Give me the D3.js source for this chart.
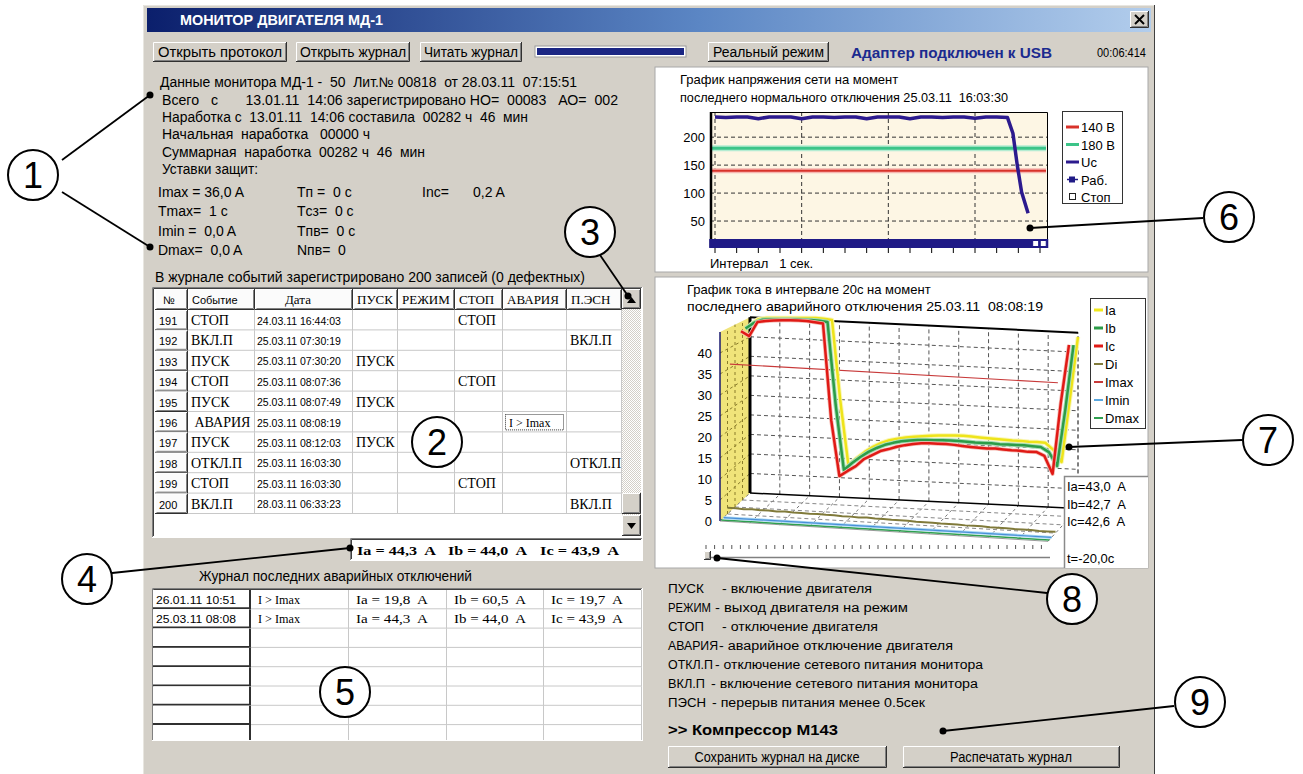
<!DOCTYPE html>
<html>
<head>
<meta charset="utf-8">
<script src="https://cdn.jsdelivr.net/npm/d3@7"></script>
<style>
  body { margin: 0; background: #fff; overflow: hidden; }
  svg { display: block; }
  text { white-space: pre; }
</style>
</head>
<body>
<script>
// ---- données ----
const infoLines = [
  "Данные монитора МД-1 -  50  Лит.№ 00818  от 28.03.11  07:15:51",
  "Всего   с       13.01.11  14:06 зарегистрировано НО=  00083   АО=  002",
  "Наработка с  13.01.11  14:06 составила  00282 ч  46  мин",
  "Начальная  наработка   00000 ч",
  "Суммарная  наработка  00282 ч  46  мин",
  "Уставки защит:"
];
const setCol1 = ["Imax = 36,0 A", "Tmax=  1 c", "Imin =  0,0 A", "Dmax=  0,0 A"];
const setCol2 = ["Tп =  0 c", "Tсз=  0 c", "Tпв=  0 c", "Nпв=  0"];
const setCol3 = ["Inc=", "0,2 A"];

const topButtons = ["Открыть протокол", "Открыть журнал", "Читать журнал", "Реальный режим"];

const eventCols = ["№", "Событие", "Дата", "ПУСК", "РЕЖИМ", "СТОП", "АВАРИЯ", "П.ЭСН"];
const eventNums = [191, 192, 193, 194, 195, 196, 197, 198, 199, 200];
const eventNames = ["СТОП", "ВКЛ.П", "ПУСК", "СТОП", "ПУСК", " АВАРИЯ", "ПУСК", "ОТКЛ.П", "СТОП", "ВКЛ.П"];
const eventDates = ["24.03.11 16:44:03", "25.03.11 07:30:19", "25.03.11 07:30:20", "25.03.11 08:07:36",
  "25.03.11 08:07:49", "25.03.11 08:08:19", "25.03.11 08:12:03", "25.03.11 16:03:30",
  "25.03.11 16:03:30", "28.03.11 06:33:23"];
const eventMarkCol = ["СТОП", "П.ЭСН", "ПУСК", "СТОП", "ПУСК", "АВАРИЯ", "ПУСК", "П.ЭСН", "СТОП", "П.ЭСН"];
const eventMarks = ["СТОП", "ВКЛ.П", "ПУСК", "СТОП", "ПУСК", "I > Imax", "ПУСК", "ОТКЛ.П", "СТОП", "ВКЛ.П"];
const lastCurrents = ["Ia = 44,3  A", "Ib = 44,0  A", "Ic = 43,9  A"];

const crashDates = ["26.01.11 10:51", "25.03.11 08:08", "", "", "", "", "", ""];
const crashCause = ["I > Imax", "I > Imax", "", "", "", "", "", ""];
const crashIa = ["Ia = 19,8  A", "Ia = 44,3  A", "", "", "", "", "", ""];
const crashIb = ["Ib = 60,5  A", "Ib = 44,0  A", "", "", "", "", "", ""];
const crashIc = ["Ic = 19,7  A", "Ic = 43,9  A", "", "", "", "", "", ""];

const legendCodes = ["ПУСК", "РЕЖИМ", "СТОП", "АВАРИЯ", "ОТКЛ.П", "ВКЛ.П", "ПЭСН"];
const legendDescs = ["- включение двигателя", "- выход двигателя на режим", "- отключение двигателя",
  "- аварийное отключение двигателя", "- отключение сетевого питания монитора",
  "- включение сетевого питания монитора", "- перерыв питания менее 0.5сек"];

// график напряжения
const voltTicks = [50, 100, 150, 200];
const voltLevels = [140, 180];
const voltT = [0, 0.5, 1, 1.5, 2, 2.5, 3, 3.5, 4, 4.5, 5, 5.5, 6, 6.5, 7, 7.5, 8, 8.5, 9, 9.5,
  10, 10.5, 11, 11.5, 12, 12.5, 13, 13.5, 13.75, 13.95, 14.15, 14.45];
const voltUc = [236, 235, 236, 236, 233, 236, 236, 236, 233, 236, 236, 235, 236, 236, 233, 236,
  236, 236, 233, 236, 236, 235, 236, 236, 234, 236, 236, 235, 207, 150, 102, 64];
const runSpan = [-0.25, 15.4];
const stopT = [14.8, 15.15];

// график тока
const curTicks = [0, 5, 10, 15, 20, 25, 30, 35, 40];
const curT = [-20, -19.5, -19, -18.5, -18, -17.5, -17, -16.5, -16, -15.5, -15, -14.5, -14, -13.5,
  -13, -12.5, -12, -11.5, -11, -10.5, -10, -9.5, -9, -8.5, -8, -7.5, -7, -6.5, -6, -5.5, -5,
  -4.5, -4, -3.5, -3, -2.5, -2, -1.5, -1, -0.5, 0];
const curIa = [43.0, 44.6, 45.0, 45.1, 45.2, 45.3, 45.4, 45.5, 45.6, 45.5, 45.3, 24.9, 8.3, 10.2,
  11.9, 13.3, 14.4, 15.2, 15.7, 16.1, 16.4, 16.6, 16.8, 17.0, 17.1, 17.2, 17.2, 17.1, 17.0, 16.9,
  16.8, 16.7, 16.6, 16.6, 16.5, 16.5, 16.4, 14.7, 11.7, 27.7, 43.9];
const curIb = [42.7, 44.2, 45.1, 45.3, 45.4, 45.5, 45.6, 45.6, 45.7, 45.6, 45.4, 24.5, 8.1, 10.0,
  11.6, 13.0, 14.1, 15.0, 15.6, 16.1, 16.4, 16.6, 16.7, 16.8, 16.9, 16.9, 16.9, 16.8, 16.7, 16.7,
  16.7, 16.6, 16.6, 16.6, 16.6, 16.5, 16.4, 15.2, 11.8, 26.1, 42.6];
const curIc = [42.6, 41.5, 45.1, 45.5, 45.7, 45.9, 46.0, 46.0, 46.0, 45.8, 45.6, 21.5, 7.6, 9.0,
  10.3, 12.2, 13.3, 14.4, 15.0, 15.7, 16.2, 16.6, 16.9, 17.0, 17.0, 17.0, 16.9, 16.7, 16.6, 16.5,
  16.4, 16.5, 16.4, 16.3, 16.3, 16.1, 16.2, 15.3, 10.9, 28.8, 43.4];
const curDi = [1.5, 1.5, 1.4, 1.5, 1.4, 1.4, 1.3, 1.4, 1.3, 1.3, 1.2, 1.3, 1.2, 1.2, 1.1, 1.1, 1.0,
  1.1, 1.0, 1.0, 0.9, 0.9, 0.9, 0.8, 0.8, 0.8, 0.7, 0.7, 0.7, 0.6, 0.6, 0.6, 0.5, 0.5, 0.5, 0.4,
  0.4, 0.4, 0.3, 0.3, 0.3];
const limT = [-20, 0];
const curImax = [36.0, 36.0];
const curImin = [0.0, 0.0];
const curDmax = [0.0, 0.0];
const cursorVals = ["Ia=43,0  A", "Ib=42,7  A", "Ic=42,6  A", "", "t=-20,0c"];

// ---- canevas ----
const SANS = '"Liberation Sans", Arial, sans-serif';
const SERIF = '"Liberation Serif", "Times New Roman", serif';
const GRAY = '#d4d0c8';

const svg = d3.select('body').append('svg')
  .attr('width', 1303).attr('height', 774)
  .attr('viewBox', '0 0 1303 774');
const defs = svg.append('defs');
const cap = defs.append('linearGradient').attr('id', 'cap');
cap.append('stop').attr('offset', 0).attr('stop-color', '#0b1f6c');
cap.append('stop').attr('offset', 0.55).attr('stop-color', '#5b86c4');
cap.append('stop').attr('offset', 1).attr('stop-color', '#b2cdec');
const chk = defs.append('pattern').attr('id', 'chk').attr('width', 2).attr('height', 2)
  .attr('patternUnits', 'userSpaceOnUse');
chk.append('rect').attr('width', 2).attr('height', 2).attr('fill', '#fff');
chk.append('rect').attr('width', 1).attr('height', 1).attr('fill', GRAY);
chk.append('rect').attr('x', 1).attr('y', 1).attr('width', 1).attr('height', 1).attr('fill', GRAY);

function txt(g, s, x, y, o = {}) {
  const t = g.append('text').attr('x', x).attr('y', y).text(s)
    .attr('font-size', o.size || 13)
    .attr('font-family', o.family || SANS)
    .attr('fill', o.fill || '#000');
  if (o.weight) t.attr('font-weight', o.weight);
  if (o.anchor) t.attr('text-anchor', o.anchor);
  if (o.w) t.attr('textLength', o.w).attr('lengthAdjust', 'spacingAndGlyphs');
  return t;
}
function pline(g, pts, c, w = 1) {
  return g.append('polyline').attr('points', pts.map(p => p.join(',')).join(' '))
    .attr('fill', 'none').attr('stroke', c).attr('stroke-width', w);
}
// bouton en relief
function raised(g, x, y, w, h, fill = GRAY) {
  g.append('rect').attr('x', x).attr('y', y).attr('width', w).attr('height', h).attr('fill', fill);
  pline(g, [[x + 0.5, y + h - 1], [x + 0.5, y + 0.5], [x + w - 1, y + 0.5]], '#fff');
  pline(g, [[x, y + h - 0.5], [x + w - 0.5, y + h - 0.5], [x + w - 0.5, y]], '#303030');
  pline(g, [[x + 1.5, y + h - 1.5], [x + w - 1.5, y + h - 1.5], [x + w - 1.5, y + 1]], '#808080');
}
// cadre en creux
function sunken(g, x, y, w, h, fill = '#fff') {
  g.append('rect').attr('x', x).attr('y', y).attr('width', w).attr('height', h).attr('fill', fill);
  pline(g, [[x + 0.5, y + h - 1], [x + 0.5, y + 0.5], [x + w - 1, y + 0.5]], '#808080');
  pline(g, [[x + 1.5, y + h - 2], [x + 1.5, y + 1.5], [x + w - 2, y + 1.5]], '#404040');
  pline(g, [[x, y + h - 0.5], [x + w - 0.5, y + h - 0.5], [x + w - 0.5, y]], '#fff');
}

// ---- fenêtre ----
const win = svg.append('g');
win.append('rect').attr('x', 143).attr('y', 5).attr('width', 1012).attr('height', 769).attr('fill', GRAY);
pline(win, [[143.5, 774], [143.5, 5.5], [1155, 5.5]], '#e8e6e0');
pline(win, [[1154.5, 5], [1154.5, 774]], '#404040');
win.append('rect').attr('x', 147).attr('y', 8).attr('width', 1004).attr('height', 24).attr('fill', 'url(#cap)');
txt(win, 'МОНИТОР ДВИГАТЕЛЯ МД-1', 180, 25, { size: 14, weight: 'bold', fill: '#fff', w: 203 });
raised(win, 1130, 11, 19, 17);
pline(win, [[1135, 15], [1144, 24]], '#000', 2);
pline(win, [[1144, 15], [1135, 24]], '#000', 2);

// boutons du haut
const btnX = [153, 296, 420, 708], btnW = [134, 114, 102, 121], btnTW = [124, 106, 94, 111];
topButtons.forEach((b, i) => {
  raised(win, btnX[i], 42, btnW[i], 20);
  txt(win, b, btnX[i] + btnW[i] / 2, 57, { anchor: 'middle', size: 14, w: btnTW[i] });
});
win.append('rect').attr('x', 535).attr('y', 46).attr('width', 151).attr('height', 11)
  .attr('fill', '#fff').attr('stroke', '#9a9a9a');
win.append('rect').attr('x', 537).attr('y', 48).attr('width', 147).attr('height', 7).attr('fill', '#1b2683');
txt(win, 'Адаптер подключен к USB', 851, 58, { size: 14.5, weight: 'bold', fill: '#1b2a8f', w: 201 });
txt(win, '00:06:414', 1097, 57, { size: 13, w: 49 });

// ---- informations ----
const infoX = [160, 162, 162, 162, 162, 162];
const infoY = [87, 105, 122, 139, 157, 174];
const infoW = [417, 456, 366, 208, 263, 96];
infoLines.forEach((s, i) => txt(win, s, infoX[i], infoY[i], { size: 14, w: infoW[i] }));
const setY = [197, 216, 236, 255];
setCol1.forEach((s, i) => txt(win, s, 158, setY[i], { size: 14 }));
setCol2.forEach((s, i) => txt(win, s, 297, setY[i], { size: 14 }));
txt(win, setCol3[0], 422, setY[0], { size: 14 });
txt(win, setCol3[1], 473, setY[0], { size: 14 });
txt(win, 'В журнале событий зарегистрировано 200 записей (0 дефектных)', 155, 282, { size: 14, w: 430 });

// ---- journal des événements ----
const ev = svg.append('g');
const colX = [155, 188, 255, 353, 398, 455, 503, 567, 622];
const rowY0 = 310, rowH = 20.4;
sunken(ev, 152, 287, 491, 251);
eventCols.forEach((c, i) => {
  raised(ev, colX[i], 289, colX[i + 1] - colX[i], 21, '#fbfbfb');
  const serif = i >= 2;
  txt(ev, c, colX[i] + (i === 2 ? 30 : i === 0 ? 8 : 4), 304,
    { size: serif ? 13 : 11, family: serif ? SERIF : SANS });
});
eventNums.forEach((n, r) => {
  const y = rowY0 + r * rowH;
  raised(ev, colX[0], y, colX[1] - colX[0], rowH, '#fbfbfb');
  for (let i = 1; i < 8; i++) {
    pline(ev, [[colX[i + 1] - 0.5, y], [colX[i + 1] - 0.5, y + rowH]], '#c8c8c8');
    pline(ev, [[colX[i], y + rowH - 0.5], [colX[i + 1], y + rowH - 0.5]], '#c8c8c8');
  }
  txt(ev, String(n), colX[0] + 4, y + 15, { size: 11 });
  txt(ev, eventNames[r], colX[1] + 3, y + 15, { size: 14, family: SERIF });
  txt(ev, eventDates[r], colX[2] + 2, y + 14.5, { size: 10.5 });
  const ci = eventCols.indexOf(eventMarkCol[r]);
  const small = eventMarks[r].startsWith('I');
  txt(ev, eventMarks[r], colX[ci] + (small ? 6 : 3), y + 15, { size: small ? 12 : 14, family: SERIF });
  if (small) {
    ev.append('rect').attr('x', colX[ci] + 2.5).attr('y', y + 2.5).attr('width', colX[ci + 1] - colX[ci] - 6)
      .attr('height', rowH - 5).attr('fill', 'none').attr('stroke', '#333').attr('stroke-dasharray', '1,1');
  }
});
// ascenseur
ev.append('rect').attr('x', 622).attr('y', 289).attr('width', 19).attr('height', 247).attr('fill', 'url(#chk)');
raised(ev, 622, 289, 19, 20);
ev.append('path').attr('d', 'M627,303 L636,303 L631.5,297 Z').attr('fill', '#000');
raised(ev, 622, 493, 19, 21);
raised(ev, 622, 515, 19, 21);
ev.append('path').attr('d', 'M627,523 L636,523 L631.5,529 Z').attr('fill', '#000');

// courants au moment de la dernière avarie
sunken(ev, 350, 538, 293, 23);
[357, 448, 540].forEach((x, i) => txt(ev, lastCurrents[i], x, 555, { size: 13, weight: 'bold', family: SERIF, w: 79 }));

// ---- journal des avaries ----
const cr = svg.append('g');
txt(cr, 'Журнал последних аварийных отключений', 199, 581, { size: 14, w: 273 });
sunken(cr, 152, 588, 491, 153);
defs.append('clipPath').attr('id', 'crclip').append('rect')
  .attr('x', 153).attr('y', 589).attr('width', 489).attr('height', 151);
const crg = cr.append('g').attr('clip-path', 'url(#crclip)');
const crX = [153, 251, 349, 447, 544, 642];
const crCols = [crashDates, crashCause, crashIa, crashIb, crashIc];
const crW = [80, 42, 72, 72, 72];
crashDates.forEach((d, r) => {
  const y = 590 + r * 19.3;
  crg.append('rect').attr('x', crX[0]).attr('y', y).attr('width', crX[1] - crX[0]).attr('height', 19.3).attr('fill', '#fff');
  pline(crg, [[crX[0] + 0.5, y + 19.3], [crX[0] + 0.5, y + 0.5], [crX[1], y + 0.5]], '#fff');
  pline(crg, [[crX[0], y + 18.3], [crX[1] - 1, y + 18.3], [crX[1] - 1, y]], '#303030', 2);
  for (let i = 1; i < 5; i++) {
    pline(crg, [[crX[i + 1] - 0.5, y], [crX[i + 1] - 0.5, y + 19.3]], '#c8c8c8');
    pline(crg, [[crX[i], y + 18.8], [crX[i + 1], y + 18.8]], '#c8c8c8');
  }
  crCols.forEach((col, i) => {
    if (col[r]) txt(crg, col[r], crX[i] + (i === 0 ? 3 : 7), y + 14,
      { size: i === 0 ? 11 : 12.5, family: i === 0 ? SANS : SERIF, w: crW[i] });
  });
});

// ---- légende des événements ----
const lg = svg.append('g');
const descX = [722, 715, 722, 719, 715, 711, 712];
const descW = [150, 193, 156, 234, 268, 267, 213];
const codeW = [36, 43, 36, 50, 45, 37, 38];
legendCodes.forEach((c, i) => {
  const y = 593 + i * 19;
  txt(lg, c, 668, y, { size: 13, w: codeW[i] });
  txt(lg, legendDescs[i], descX[i], y, { size: 12.5, w: descW[i] });
});
txt(lg, '>> Компрессор М143', 668, 735, { size: 15, weight: 'bold', w: 170 });
raised(lg, 668, 746, 219, 22);
txt(lg, 'Сохранить журнал на диске', 777, 762, { anchor: 'middle', size: 14, w: 165 });
raised(lg, 903, 746, 217, 22);
txt(lg, 'Распечатать журнал', 1011, 762, { anchor: 'middle', size: 14, w: 122 });

// ---- graphique de tension ----
const vg = svg.append('g');
vg.append('rect').attr('x', 655).attr('y', 67).attr('width', 493).attr('height', 205)
  .attr('fill', '#fff').attr('stroke', '#a8a8a8');
txt(vg, 'График напряжения сети на момент', 680, 84, { size: 13 });
txt(vg, 'последнего нормального отключения 25.03.11  16:03:30', 680, 102, { size: 13, w: 328 });
const xV = d3.scaleLinear().domain([0, 15]).range([715, 1040]);
const yV = d3.scaleLinear().domain([0, 245]).range([249, 112]);
vg.append('rect').attr('x', 710).attr('y', 112).attr('width', 338).attr('height', 135).attr('fill', '#fdf6e4');
voltTicks.forEach(v => {
  pline(vg, [[710, yV(v)], [1048, yV(v)]], '#333', 1).attr('stroke-dasharray', '4,3');
  txt(vg, String(v), 705, yV(v) + 5, { size: 13, anchor: 'end' });
});
[0, 4, 8, 12].forEach(t => pline(vg, [[xV(t), 112], [xV(t), 240]], '#333', 1).attr('stroke-dasharray', '4,3'));
pline(vg, [[710, yV(voltLevels[0])], [1046, yV(voltLevels[0])]], '#f6b6b0', 5);
pline(vg, [[710, yV(voltLevels[0])], [1046, yV(voltLevels[0])]], '#d8322a', 2);
pline(vg, [[710, yV(voltLevels[1])], [1046, yV(voltLevels[1])]], '#b4ecd2', 6);
pline(vg, [[710, yV(voltLevels[1])], [1046, yV(voltLevels[1])]], '#3cc488', 3);
vg.append('path').attr('d', d3.line().x((d, i) => xV(voltT[i])).y(d => yV(d))(voltUc))
  .attr('fill', 'none').attr('stroke', '#2c1a8e').attr('stroke-width', 3.5).attr('stroke-linejoin', 'round');
pline(vg, [[710.5, 247], [710.5, 112.5], [1047.5, 112.5], [1047.5, 247]], '#000', 1);
pline(vg, [[711, 247], [711, 112]], '#000', 2.5);
// barre d'état
vg.append('rect').attr('x', xV(runSpan[0]) - 0.4).attr('y', 239).attr('width', xV(runSpan[1]) - xV(runSpan[0]))
  .attr('height', 9).attr('fill', '#1f1a86');
stopT.forEach(t => vg.append('rect').attr('x', xV(t) - 3).attr('y', 240.5).attr('width', 6).attr('height', 6)
  .attr('fill', '#fff').attr('stroke', '#1f1a86'));
d3.range(0, 16).forEach(t => pline(vg, [[xV(t), 248], [xV(t), 253]], '#000', 1));
txt(vg, 'Интервал   1 сек.', 710, 268, { size: 13 });
// légende
vg.append('rect').attr('x', 1062.5).attr('y', 111.5).attr('width', 60).attr('height', 92)
  .attr('fill', '#fff').attr('stroke', '#333');
const vLeg = [['140 В', '#d8322a', 'l'], ['180 В', '#3cc488', 'l'], ['Uc', '#2c1a8e', 'l'], ['Раб.', '#1f1a86', 's'], ['Стоп', '#fff', 'o']];
vLeg.forEach((d, i) => {
  const y = 127 + i * 17.5;
  if (d[2] === 'l') pline(vg, [[1066, y], [1079, y]], d[1], 3);
  if (d[2] === 's') {
    pline(vg, [[1067, y], [1078, y]], d[1], 1.5);
    vg.append('rect').attr('x', 1069).attr('y', y - 3).attr('width', 6).attr('height', 6).attr('fill', d[1]);
  }
  if (d[2] === 'o') vg.append('rect').attr('x', 1069.5).attr('y', y - 3.5).attr('width', 6).attr('height', 6)
    .attr('fill', '#fff').attr('stroke', '#222');
  txt(vg, d[0], 1081, y + 5, { size: 13 });
});

// ---- graphique de courant (pseudo 3D) ----
const cg = svg.append('g');
cg.append('rect').attr('x', 655).attr('y', 277).attr('width', 493).attr('height', 291)
  .attr('fill', '#fff').attr('stroke', '#a8a8a8');
txt(cg, 'График тока в интервале 20с на момент', 687, 294, { size: 13 });
txt(cg, 'последнего аварийного отключения 25.03.11  08:08:19', 687, 311, { size: 13, w: 356 });

const uS = d3.scaleLinear().domain([-20, 0]).range([0, 328]);
const vS = d3.scaleLinear().domain([0, 45]).range([0, 189]);
const P = (t, v, z) => {
  const u = uS(t);
  return [720 + 30 * z + u, 521 - 28 * z - vS(v) * (1 - 0.07 * z) + u * (0.062 - 0.015 * z)];
};
const poly = (pts, fill) => cg.append('polygon').attr('points', pts.map(p => P(...p).join(',')).join(' ')).attr('fill', fill);
const seg = (a, b, c, w, dash) => {
  const l = pline(cg, [P(...a), P(...b)], c, w);
  if (dash) l.attr('stroke-dasharray', dash);
  return l;
};
poly([[-20, 0, 1], [-20, 45, 1], [0, 45, 1], [0, 0, 1]], '#fff');
poly([[-20, 0, 0], [-20, 0, 1], [0, 0, 1], [0, 0, 0]], '#fff');
poly([[-20, 0, 0], [-20, 45, 0], [-20, 45, 1], [-20, 0, 1]], '#f0e47a');
const gridT = d3.range(0, 12).map(i => -20 + i * 20 / 11);
curTicks.slice(1).forEach(v => {
  seg([-20, v, 1], [0, v, 1], '#555', 1, '4,3');
  seg([-20, v, 0], [-20, v, 1], '#8a7d2a', 1, '3,3');
});
gridT.forEach(t => {
  seg([t, 0, 1], [t, 45, 1], '#555', 1, '4,3');
  seg([t, 0, 0], [t, 0, 1], '#777', 1, '3,3');
});
seg([0, 0, 1], [0, 45, 1], '#555', 1, '4,3');
[0.25, 0.5, 0.75].forEach(z => {
  seg([-20, 0, z], [0, 0, z], '#888', 1, '4,3');
  seg([-20, 0, z], [-20, 45, z], '#8a7d2a', 1, '3,3');
});
// arêtes
seg([-20, 0, 0], [-20, 45, 0], '#1a1a70', 1.5);
seg([-20, 0, 1], [-20, 45, 1], '#000', 3);
seg([-20, 45, 1], [0, 45, 1], '#000', 2);
seg([-20, 0, 1], [0, 0, 1], '#000', 1.5);
seg([-20, 0, 0], [0, 0, 0], '#9a9a9a', 1);
curTicks.forEach(v => txt(cg, String(v), 712, P(-20, v, 0)[1] + 5, { size: 13, anchor: 'end' }));

const line3 = (ts, vs, z) => d3.line().x((d, i) => P(ts[i], d, z)[0]).y((d, i) => P(ts[i], d, z)[1])(vs);
const series = (ts, vs, z, c, w) => cg.append('path').attr('d', line3(ts, vs, z)).attr('fill', 'none')
  .attr('stroke', c).attr('stroke-width', w).attr('stroke-linejoin', 'round');
series(limT, curDmax, 0.04, '#2fa050', 1.5);
series(limT, curImin, 0.12, '#a8d8f4', 3);
series(limT, curImin, 0.12, '#4a8fd8', 1.2);
series(curT, curDi, 0.25, '#807a3a', 2);
series(limT, curImax, 0.33, '#c83a3a', 1.2);
series(curT, curIa, 1.0, '#faf6b8', 4.5);
series(curT, curIa, 1.0, '#eee41a', 2.5);
series(curT, curIb, 0.85, '#a8dcb4', 4.5);
series(curT, curIb, 0.85, '#2c9c48', 2.5);
series(curT, curIc, 0.7, '#f4b8b0', 4);
series(curT, curIc, 0.7, '#e01a16', 2.5);

// curseur
d3.range(0, 40).forEach(i => pline(cg, [[706 + i * 8.6, 545], [706 + i * 8.6, 549]], '#555', 1));
pline(cg, [[705, 557.5], [1050, 557.5]], '#808080', 1.5);
pline(cg, [[705, 559.5], [1050, 559.5]], '#fff', 1);
raised(cg, 704, 551, 7, 9);
// valeurs au curseur
cg.append('rect').attr('x', 1064).attr('y', 476).attr('width', 84).attr('height', 92).attr('fill', '#fff');
pline(cg, [[1064.5, 568], [1064.5, 476.5], [1148, 476.5]], '#8a8a8a', 1.5);
cursorVals.forEach((s, i) => { if (s) txt(cg, s, 1067, 491 + i * 17.5 + (i === 4 ? 2 : 0), { size: 13 }); });
// légende
cg.append('rect').attr('x', 1090.5).attr('y', 298.5).attr('width', 55).attr('height', 130)
  .attr('fill', '#fff').attr('stroke', '#333');
const cLeg = [['Ia', '#f0e81c', 3], ['Ib', '#2c9c48', 3], ['Ic', '#e01a16', 3], ['Di', '#807a3a', 2],
  ['Imax', '#c83a3a', 2], ['Imin', '#5aa8e0', 2], ['Dmax', '#2fa050', 2]];
cLeg.forEach((d, i) => {
  const y = 310 + i * 18;
  pline(cg, [[1094, y], [1103, y]], d[1], d[2]);
  txt(cg, d[0], 1105, y + 5, { size: 13 });
});

// ---- repères ----
const ann = svg.append('g');
const marks = [
  [1, 33, 175, [[[62, 160], [150, 95]], [[62, 192], [150, 247]]]],
  [2, 437, 442, []],
  [3, 590, 232, [[[600, 255], [628, 296]]]],
  [4, 87, 579, [[[112, 573], [350, 548]]]],
  [5, 345, 692, []],
  [6, 1229, 217, [[[1203, 218], [1030, 228]]]],
  [7, 1268, 440, [[[1242, 440], [1069, 447]]]],
  [8, 1072, 599, [[[1047, 593], [717, 558]]]],
  [9, 1200, 702, [[[1174, 706], [943, 731]]]]
];
marks.forEach(([n, cx, cy, lines]) => {
  lines.forEach(([a, b]) => {
    pline(ann, [a, b], '#000', 1.8);
    ann.append('circle').attr('cx', b[0]).attr('cy', b[1]).attr('r', 3.5).attr('fill', '#000');
  });
  ann.append('circle').attr('cx', cx).attr('cy', cy).attr('r', 25)
    .attr('fill', '#fff').attr('stroke', '#000').attr('stroke-width', 2);
  txt(ann, String(n), cx, cy + 13, { size: 36, anchor: 'middle' });
});
</script>
</body>
</html>
